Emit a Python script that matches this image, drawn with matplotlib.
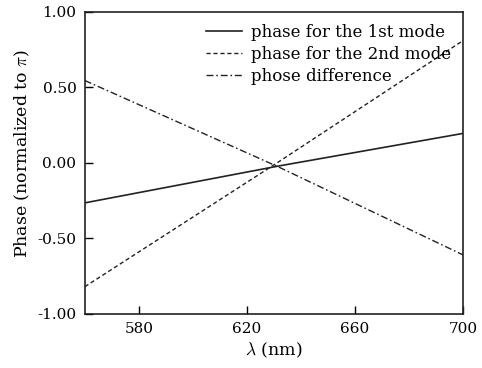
import matplotlib
matplotlib.use("Agg")
import matplotlib.pyplot as plt
from matplotlib.ticker import FormatStrFormatter

plt.rcParams['font.family'] = ['DejaVu Serif']
plt.rcParams['mathtext.fontset'] = 'cm'

wavelength = [560, 632, 700]
phase_mode1 = [-0.265, -0.02, 0.195]
phase_mode2 = [-0.82, 0.01, 0.81]
phase_diff = [0.545, -0.03, -0.61]

labels = ['phase for the 1st mode', 'phase for the 2nd mode', 'phose difference']

fig = plt.figure(figsize=(4.82, 3.68), dpi=100)
ax = fig.add_axes([0.176, 0.147, 0.785, 0.821])

ax.plot(wavelength, phase_mode1, color='#222222', lw=1.2, ls='-', label=labels[0])
ax.plot(wavelength, phase_mode2, color='#222222', lw=1.0, ls=(0, (3, 2)), label=labels[1])
ax.plot(wavelength, phase_diff, color='#222222', lw=1.0, ls=(0, (5, 2, 1.2, 2)), label=labels[2])

ax.set_xlim(560, 700)
ax.set_ylim(-1.0, 1.0)
ax.set_xticks([580, 620, 660, 700])
ax.set_yticks([-1.0, -0.5, 0.0, 0.5, 1.0])
ax.yaxis.set_major_formatter(FormatStrFormatter('%.2f'))
ax.tick_params(direction='in', length=6, width=1, labelsize=11, pad=6)
for s in ax.spines.values():
    s.set_linewidth(1.2)
    s.set_color('#222222')

ax.set_xlabel(r'$\lambda$ (nm)', fontsize=12.5, labelpad=3)
ax.set_ylabel(r'Phase (normalized to $\pi$)', fontsize=12.5)
ax.yaxis.set_label_coords(-0.14, 0.53)

ax.legend(loc='upper right', frameon=False, fontsize=12, handlelength=2.2,
          handletextpad=0.5, labelspacing=0.3, borderaxespad=0.35,
          borderpad=0.4)

fig.savefig('out.png', dpi=100)
